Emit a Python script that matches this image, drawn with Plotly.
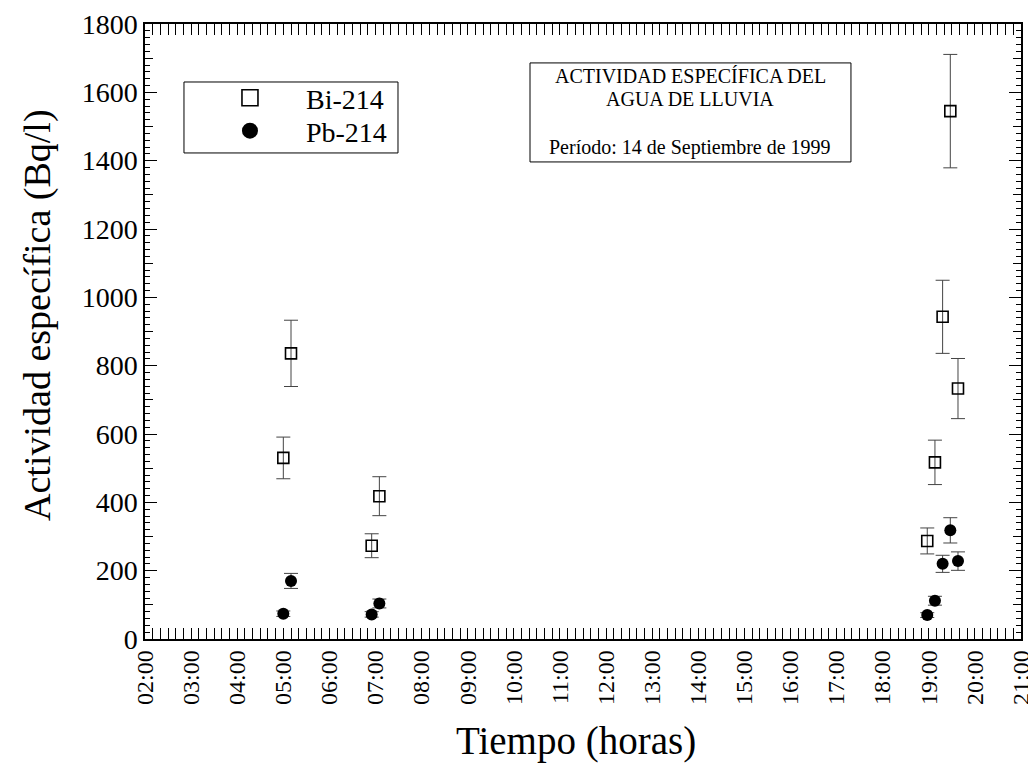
import plotly.graph_objects as go

# ---- data ----
bi_times = ["1999-09-14 05:00", "1999-09-14 05:10", "1999-09-14 06:55", "1999-09-14 07:05",
            "1999-09-14 18:58", "1999-09-14 19:08", "1999-09-14 19:18", "1999-09-14 19:28",
            "1999-09-14 19:38"]
bi_values = [530, 836, 273, 418, 287, 517, 943, 1545, 733]
bi_errors = [61, 97, 35, 57, 38, 65, 107, 166, 88]

pb_times = bi_times
pb_values = [74, 170, 72, 104, 70, 112, 220, 318, 228]
pb_errors = [8, 22, 8, 13, 7, 13, 25, 37, 27]

series_names = ["Bi-214", "Pb-214"]
x_range = ["1999-09-14 02:00", "1999-09-14 21:00"]
y_range = [0, 1800]
x_title = "Tiempo (horas)"
y_title = "Actividad específica (Bq/l)"
info_lines = ["ACTIVIDAD ESPECÍFICA DEL", "AGUA DE LLUVIA", "Período: 14 de Septiembre de 1999"]

FONT = "Liberation Serif, Times New Roman, serif"

fig = go.Figure()

fig.add_trace(go.Scatter(
    x=bi_times, y=bi_values, mode="markers", name=series_names[0], showlegend=False,
    marker=dict(symbol="square-open", size=11, color="black", line=dict(width=1.6, color="black")),
    error_y=dict(type="data", array=bi_errors, visible=True, color="#444", thickness=1, width=7),
))
fig.add_trace(go.Scatter(
    x=pb_times, y=pb_values, mode="markers", name=series_names[1], showlegend=False,
    marker=dict(symbol="circle", size=12, color="black"),
    error_y=dict(type="data", array=pb_errors, visible=True, color="#444", thickness=1, width=7),
))
# legend entries (larger symbols, as in the reference legend), one per legend row
fig.add_trace(go.Scatter(
    x=[None], y=[None], mode="markers", name=series_names[0], legend="legend",
    marker=dict(symbol="square-open", size=16, color="black", line=dict(width=1.6, color="black")),
))
fig.add_trace(go.Scatter(
    x=[None], y=[None], mode="markers", name=series_names[1], legend="legend2",
    marker=dict(symbol="circle", size=16, color="black"),
))

legend_common = dict(
    xanchor="left", yanchor="middle", bgcolor="rgba(0,0,0,0)", borderwidth=0,
    font=dict(family=FONT, size=28, color="black"), itemwidth=102, tracegroupgap=0,
)

# the page body adds an 8px offset; margins are chosen so the plot area
# lands at x 145..1021, y 24..639 in the window
fig.update_layout(
    width=1036, height=767,
    margin=dict(l=137, r=23, t=16, b=136, autoexpand=False),
    paper_bgcolor="white", plot_bgcolor="white",
    font=dict(family=FONT, color="black", size=24),
    showlegend=True,
    legend=dict(x=0.0559, y=0.8797, **legend_common),
    legend2=dict(x=0.0559, y=0.8261, **legend_common),
    xaxis=dict(
        type="date", range=x_range, tickformat="%H:%M",
        dtick=3600000, tick0="1999-09-14 02:00", tickangle=-90,
        ticks="inside", ticklen=11, tickwidth=1, tickcolor="black",
        showline=True, linecolor="black", linewidth=1.5, mirror="allticks",
        showgrid=False, zeroline=False, automargin=False,
        tickfont=dict(family=FONT, size=24),
        minor=dict(dtick=600000, ticks="inside", ticklen=5, tickcolor="black", tickwidth=1, showgrid=False),
    ),
    yaxis=dict(
        range=y_range, dtick=200, tick0=0,
        ticks="inside", ticklen=12, tickwidth=1, tickcolor="black",
        showline=True, linecolor="black", linewidth=1.5, mirror="allticks",
        showgrid=False, zeroline=False, automargin=False,
        tickfont=dict(family=FONT, size=28),
        minor=dict(dtick=20, ticks="inside", ticklen=5, tickcolor="black", tickwidth=1, showgrid=False),
    ),
    yaxis2=dict(
        overlaying="y", matches="y", range=y_range, dtick=100, tick0=0,
        ticks="inside", ticklen=8, tickwidth=1, tickcolor="black",
        showticklabels=False, showgrid=False, zeroline=False,
        showline=False, mirror="ticks", side="left", automargin=False,
    ),
)

# invisible trace to activate yaxis2 ticks
fig.add_trace(go.Scatter(x=[x_range[0]], y=[0], yaxis="y2", mode="markers",
                         marker=dict(opacity=0), showlegend=False, hoverinfo="skip"))

# axis titles
fig.add_annotation(xref="paper", yref="paper", x=0.492, y=-0.1653, xanchor="center", yanchor="middle",
                   text=x_title, showarrow=False, font=dict(family=FONT, size=39, color="black"))
fig.add_annotation(xref="paper", yref="paper", x=-0.1221, y=0.527, xanchor="center", yanchor="middle",
                   text=y_title, textangle=-90, showarrow=False,
                   font=dict(family=FONT, size=38, color="black"))

# legend frame
fig.add_shape(type="rect", xref="paper", yref="paper", x0=0.0445, x1=0.2888, y0=0.7903, y1=0.9057,
              line=dict(color="black", width=1), fillcolor="rgba(0,0,0,0)", layer="above")

# info box
fig.add_shape(type="rect", xref="paper", yref="paper", x0=0.4395, x1=0.8059, y0=0.7757, y1=0.9367,
              line=dict(color="black", width=1), fillcolor="white", layer="above")
for line_text, ypos in zip(info_lines, [0.9155, 0.8782, 0.7986]):
    fig.add_annotation(xref="paper", yref="paper", x=0.6227, y=ypos, xanchor="center", yanchor="middle",
                       text=line_text, showarrow=False, font=dict(family=FONT, size=20, color="black"))

fig.write_html("out.html")
